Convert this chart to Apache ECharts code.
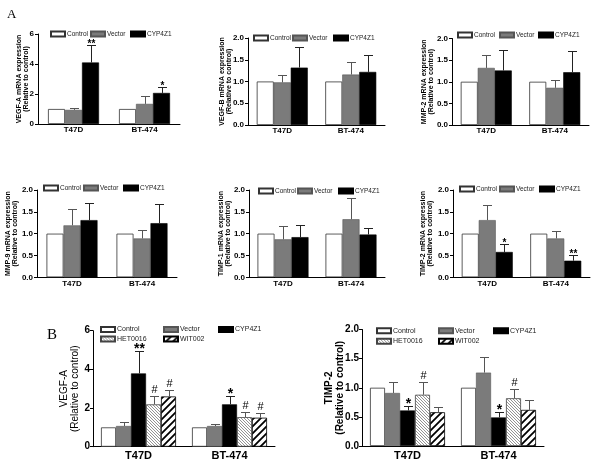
<!DOCTYPE html>
<html><head><meta charset="utf-8">
<script src="https://cdn.jsdelivr.net/npm/echarts@6/dist/echarts.min.js"></script>
<style>html,body{margin:0;padding:0;background:#fff}#c{width:600px;height:467px}</style>
</head><body><div id="c"></div>
<script>
// ================= DATA =================
const categories = ['T47D', 'BT-474'];
const groupsA = ['Control', 'Vector', 'CYP4Z1'];
const groupsB = ['Control', 'Vector', 'CYP4Z1', 'HET0016', 'WIT002'];
const ticks6 = [0, 2, 4, 6];
const ticks2 = [0, 0.5, 1.0, 1.5, 2.0];

// rows = groups (Control, Vector, CYP4Z1[, HET0016, WIT002]); columns = T47D, BT-474
const vegfA_mean = [[1, 1], [0.94, 1.34], [4.10, 2.07]];
const vegfA_err  = [[0, 0], [0.12, 0.50], [1.17, 0.38]];
const vegfA_sig  = [['', ''], ['', ''], ['**', '*']];

const vegfB_mean = [[1, 1], [0.98, 1.16], [1.32, 1.22]];
const vegfB_err  = [[0, 0], [0.18, 0.29], [0.48, 0.40]];

const mmp2_mean = [[1, 1], [1.32, 0.86], [1.26, 1.22]];
const mmp2_err  = [[0, 0], [0.31, 0.17], [0.48, 0.50]];

const mmp9_mean = [[1, 1], [1.19, 0.89], [1.31, 1.24]];
const mmp9_err  = [[0, 0], [0.37, 0.19], [0.40, 0.45]];

const timp1_mean = [[1, 1], [0.87, 1.33], [0.92, 0.98]];
const timp1_err  = [[0, 0], [0.30, 0.48], [0.28, 0.14]];

const timp2_mean = [[1, 1], [1.31, 0.89], [0.58, 0.38]];
const timp2_err  = [[0, 0], [0.35, 0.17], [0.18, 0.13]];
const timp2_sig  = [['', ''], ['', ''], ['*', '**']];

const bVegfA_mean = [[1, 1], [1.07, 1.07], [3.79, 2.19], [2.19, 1.53], [2.60, 1.50]];
const bVegfA_err  = [[0, 0], [0.19, 0.09], [1.18, 0.41], [0.43, 0.25], [0.31, 0.22]];
const bVegfA_sig  = [['', ''], ['', ''], ['**', '*'], ['#', '#'], ['#', '#']];

const bTimp2_mean = [[1, 1], [0.91, 1.26], [0.61, 0.49], [0.88, 0.82], [0.58, 0.62]];
const bTimp2_err  = [[0, 0], [0.19, 0.27], [0.08, 0.10], [0.22, 0.15], [0.09, 0.17]];
const bTimp2_sig  = [['', ''], ['', ''], ['*', '*'], ['#', '#'], ['', '']];

// ================= LAYOUT / STYLE =================
const FONT = 'Liberation Sans, Arial, Helvetica, sans-serif';
const SIZES = {
  small: {bw: 17, tick: 8, nameFont: 7, nameLH: 7, nameWeight: 'bold', cat: 8, catMargin: 2,
          leg: 6.5, legLH: 8, icon: [14, 5], sig: 10, cap: 9, tickMargin: 4},
  big:   {bw: 15, tick: 10, nameFont: 10, nameLH: 11, nameWeight: 'normal', cat: 11, catMargin: 4,
          leg: 7, legLH: 9, icon: [14, 5], sig: 14, cap: 9, tickMargin: 3}
};

const panels = [
  {grid: {left: 38, top: 34, width: 142, height: 90}, ticks: ticks6, gap: 8,
   name: 'VEGF-A mRNA expression\n(Relative to control)', groups: groupsA,
   mean: vegfA_mean, err: vegfA_err, sig: vegfA_sig, size: 'small',
   legend: [[50, 34], [90, 34], [130, 34]]},
  {grid: {left: 248, top: 38, width: 137, height: 87}, ticks: ticks2, gap: 15.5,
   name: 'VEGF-B mRNA expression\n(Relative to control)', groups: groupsA,
   mean: vegfB_mean, err: vegfB_err, sig: null, size: 'small',
   legend: [[253, 38], [292, 38], [333, 38]]},
  {grid: {left: 452, top: 38.5, width: 137, height: 86.5}, ticks: ticks2, gap: 17,
   name: 'MMP-2 mRNA expression\n(Relative to control)', groups: groupsA,
   mean: mmp2_mean, err: mmp2_err, sig: null, size: 'small',
   legend: [[457, 35], [499, 35], [538, 35]]},
  {grid: {left: 37, top: 190, width: 140, height: 87.3}, ticks: ticks2, gap: 18,
   name: 'MMP-9 mRNA expression\n(Relative to control)', groups: groupsA,
   mean: mmp9_mean, err: mmp9_err, sig: null, size: 'small',
   legend: [[43, 188], [83, 188], [123, 188]]},
  {grid: {left: 249, top: 190, width: 136, height: 87.3}, ticks: ticks2, gap: 17,
   name: 'TIMP-1 mRNA expression\n(Relative to control)', groups: groupsA,
   mean: timp1_mean, err: timp1_err, sig: null, size: 'small',
   legend: [[258, 191], [297, 191], [338, 191]]},
  {grid: {left: 453, top: 190, width: 137, height: 87.3}, ticks: ticks2, gap: 19,
   name: 'TIMP-2 mRNA expression\n(Relative to control)', groups: groupsA,
   mean: timp2_mean, err: timp2_err, sig: timp2_sig, size: 'small',
   legend: [[459, 189], [499, 189], [539, 189]]},
  {grid: {left: 93, top: 330.7, width: 182, height: 116}, ticks: ticks6, gap: 12,
   name: 'VEGF-A\n(Relative to control)', groups: groupsB,
   mean: bVegfA_mean, err: bVegfA_err, sig: bVegfA_sig, size: 'big',
   legend: [[100, 329.5], [163, 329.5], [218, 329.5], [100, 339], [163, 339]]},
  {grid: {left: 362, top: 329.5, width: 182, height: 116.5}, ticks: ticks2, gap: 16,
   name: 'TIMP-2\n(Relative to control)', groups: groupsB, nameBold: true,
   mean: bTimp2_mean, err: bTimp2_err, sig: bTimp2_sig, size: 'big',
   legend: [[376, 330.7], [438, 330.7], [493, 330.7], [376, 341.3], [438, 341.3]]}
];

function hatch(size, lw, color, dir) {
  const c = document.createElement('canvas');
  c.width = c.height = size;
  const g = c.getContext('2d');
  g.fillStyle = '#fff'; g.fillRect(0, 0, size, size);
  g.strokeStyle = color; g.lineWidth = lw; g.beginPath();
  if (dir > 0) {
    g.moveTo(-1, size + 1); g.lineTo(size + 1, -1);
    g.moveTo(-2, 2); g.lineTo(2, -2);
    g.moveTo(size - 2, size + 2); g.lineTo(size + 2, size - 2);
  } else {
    g.moveTo(-1, -1); g.lineTo(size + 1, size + 1);
    g.moveTo(size - 2, -2); g.lineTo(size + 2, 2);
    g.moveTo(-2, size - 2); g.lineTo(2, size + 2);
  }
  g.stroke();
  return c;
}

const groupStyle = {
  'Control': {color: '#ffffff', borderColor: '#333', borderWidth: 0.8},
  'Vector':  {color: '#7b7b7b', borderColor: '#555', borderWidth: 0.6},
  'CYP4Z1':  {color: '#000000', borderColor: '#000', borderWidth: 0.6},
  'HET0016': {color: {image: hatch(3, 0.7, '#666', -1), repeat: 'repeat'}, borderColor: '#444', borderWidth: 0.8},
  'WIT002':  {color: {image: hatch(7, 1.8, '#000', 1), repeat: 'repeat'}, borderColor: '#000', borderWidth: 0.8}
};

const grids = [], xAxes = [], yAxes = [], series = [], legends = [];

panels.forEach((p, pi) => {
  const S = SIZES[p.size];
  grids.push(Object.assign({containLabel: false}, p.grid));
  const step = p.ticks[1] - p.ticks[0];
  xAxes.push({
    type: 'category', gridIndex: pi, data: categories,
    axisLine: {show: true, lineStyle: {color: '#000', width: 1}},
    axisTick: {show: false},
    axisLabel: {fontFamily: FONT, fontWeight: 'bold', fontSize: S.cat, color: '#000', margin: S.catMargin}
  });
  yAxes.push({
    type: 'value', gridIndex: pi, min: p.ticks[0], max: p.ticks[p.ticks.length - 1], interval: step,
    name: p.name, nameLocation: 'middle', nameGap: p.gap, nameRotate: 90, nameMoveOverlap: false,
    nameTextStyle: {fontFamily: FONT, fontSize: S.nameFont, lineHeight: S.nameLH,
                    fontWeight: p.nameBold ? 'bold' : S.nameWeight, color: '#000'},
    axisLine: {show: true, lineStyle: {color: '#000', width: 1}},
    axisTick: {show: true, length: 3, lineStyle: {color: '#000'}},
    splitLine: {show: false},
    axisLabel: {fontFamily: FONT, fontWeight: 'bold', fontSize: S.tick, color: '#000', margin: S.tickMargin,
                formatter: v => step < 1 ? v.toFixed(1) : String(v)}
  });
  const n = p.groups.length;
  p.groups.forEach((g, gi) => {
    series.push({
      type: 'bar', name: g, xAxisIndex: pi, yAxisIndex: pi,
      barWidth: S.bw, barGap: '0%', data: p.mean[gi],
      itemStyle: groupStyle[g], emphasis: {disabled: true}, animation: false
    });
  });
  // error bars + significance marks
  const items = [];
  p.groups.forEach((g, gi) => {
    categories.forEach((c, ci) => {
      const e = p.err[gi][ci];
      const s = p.sig ? p.sig[gi][ci] : '';
      if (e > 0 || s) items.push({cat: ci, gi, mean: p.mean[gi][ci], err: e, sig: s});
    });
  });
  series.push({
    type: 'custom', xAxisIndex: pi, yAxisIndex: pi, z: 5, silent: true, animation: false,
    data: items.map(d => [d.cat, d.mean + d.err]),
    renderItem: (params, api) => {
      const d = items[params.dataIndex];
      const base = api.coord([d.cat, d.mean]);
      const top = api.coord([d.cat, d.mean + d.err]);
      const x = Math.round(base[0] + (d.gi - (n - 1) / 2) * S.bw) + 0.5;
      const yt = Math.round(top[1]) + 0.5;
      const ch = [];
      if (d.err > 0) {
        const col = d.gi === 2 ? '#222' : '#555';
        ch.push({type: 'line', shape: {x1: x, y1: base[1], x2: x, y2: yt}, style: {stroke: col, lineWidth: 1}});
        ch.push({type: 'line', shape: {x1: x - S.cap / 2, y1: yt, x2: x + S.cap / 2, y2: yt}, style: {stroke: col, lineWidth: 1}});
      }
      if (d.sig) {
        const isHash = d.sig.indexOf('#') >= 0;
        const fs = isHash ? Math.round(S.sig * 0.8) : S.sig;
        ch.push({type: 'text', x: x, y: yt + (isHash ? -1 : (p.size === 'big' ? 5 : 4)),
                 style: {text: d.sig, textAlign: 'center', textVerticalAlign: 'bottom',
                         font: (isHash ? 'normal ' : 'bold ') + fs + 'px ' + FONT, fill: '#000'}});
      }
      return {type: 'group', children: ch};
    }
  });
  p.groups.forEach((g, gi) => {
    const pos = p.legend[gi];
    legends.push({
      left: pos[0], top: pos[1] - S.legLH / 2, padding: 0, data: [g], icon: 'rect',
      itemWidth: S.icon[0], itemHeight: S.icon[1], selectedMode: false,
      textStyle: {fontFamily: FONT, fontSize: S.leg, lineHeight: S.legLH, color: '#222', padding: [0, 0, 0, -3]}
    });
  });
});

const chart = echarts.init(document.getElementById('c'), null, {renderer: 'canvas'});
chart.setOption({
  animation: false,
  backgroundColor: '#fff',
  grid: grids, xAxis: xAxes, yAxis: yAxes, series: series, legend: legends,
  graphic: [
    {type: 'text', left: 7, top: 8, style: {text: 'A', font: '13px Liberation Serif, Times New Roman, serif', fill: '#000'}},
    {type: 'text', left: 47, top: 328, style: {text: 'B', font: '15px Liberation Serif, Times New Roman, serif', fill: '#000'}}
  ]
});
</script>
</body></html>
